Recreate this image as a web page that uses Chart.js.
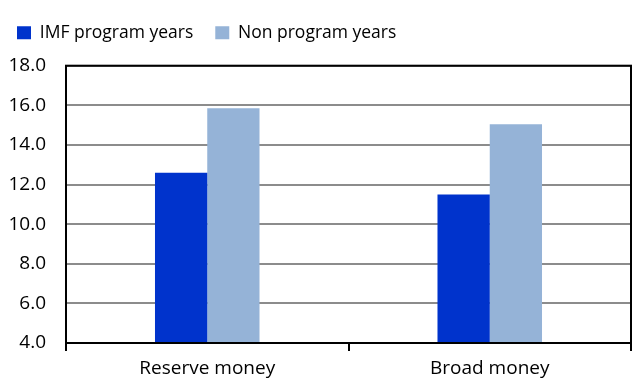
<!DOCTYPE html>
<html>
<head>
<meta charset="utf-8">
<script src="https://cdn.jsdelivr.net/npm/chart.js@4/dist/chart.umd.min.js"></script>
<style>
  html, body { margin: 0; padding: 0; background: #fff; }
  #wrap { width: 634px; height: 383px; }
</style>
</head>
<body>
<div id="wrap"><canvas id="chart" width="634" height="383"></canvas></div>
<script>
// money growth, averages by program status
var categories = ['Reserve money', 'Broad money'];
var imfYears = [12.6, 11.5];
var nonProgramYears = [15.85, 15.05];
var yTicks = [4, 6, 8, 10, 12, 14, 16, 18];

// box round the plot area (top and right edges are not axes)
var plotFrame = {
    id: 'plotFrame',
    afterDraw: function(chart) {
        var a = chart.chartArea;
        var ctx = chart.ctx;
        ctx.save();
        ctx.strokeStyle = '#000';
        ctx.lineWidth = 2;
        ctx.strokeRect(a.left, a.top, a.right - a.left, a.bottom - a.top);
        ctx.restore();
    }
};

var config = {
    type: 'bar',
    data: {
        labels: categories,
        datasets: [{
            label: 'IMF program years',
            data: imfYears,
            backgroundColor: '#0033CC',
            barPercentage: 1,
            categoryPercentage: 0.37
        }, {
            label: 'Non program years',
            data: nonProgramYears,
            backgroundColor: '#95B3D7',
            barPercentage: 1,
            categoryPercentage: 0.37
        }]
    },
    options: {
        responsive: false,
        animation: false,
        layout: {
            padding: { left: -5, right: 3, top: 2, bottom: 0 }
        },
        plugins: {
            legend: {
                position: 'top',
                align: 'start',
                labels: {
                    boxWidth: 14,
                    boxHeight: 13,
                    padding: 22,
                    color: '#000',
                    font: { family: 'Open Sans', size: 17.5 }
                }
            },
            // empty subtitle used as a gap between legend and plot
            subtitle: {
                display: true,
                text: '',
                weight: 500,
                font: { size: 1 },
                padding: { top: 0, bottom: 13 }
            },
            tooltip: { enabled: false }
        },
        scales: {
            x: {
                grid: {
                    offset: true,
                    drawOnChartArea: false,
                    drawTicks: true,
                    tickLength: 8,
                    color: '#000',
                    lineWidth: 2
                },
                border: { color: '#000', width: 2 },
                ticks: {
                    color: '#000',
                    padding: 6,
                    font: { family: 'Open Sans', size: 19 }
                },
                afterFit: function(s) { s.height = 40; }
            },
            y: {
                min: 4,
                max: 18,
                afterBuildTicks: function(s) {
                    s.ticks = yTicks.map(function(v) { return { value: v }; });
                },
                grid: {
                    drawTicks: false,
                    color: '#8C8C8C',
                    lineWidth: 2
                },
                border: { color: '#000', width: 2 },
                ticks: {
                    color: '#000',
                    padding: 20,
                    font: { family: 'Open Sans', size: 19 },
                    callback: function(v) { return Number(v).toFixed(1); }
                },
                afterFit: function(s) { s.width = 71; }
            }
        }
    },
    plugins: [plotFrame]
};

window.onload = function() {
    var ctx = document.getElementById('chart').getContext('2d');
    window.moneyChart = new Chart(ctx, config);
};
</script>
</body>
</html>
